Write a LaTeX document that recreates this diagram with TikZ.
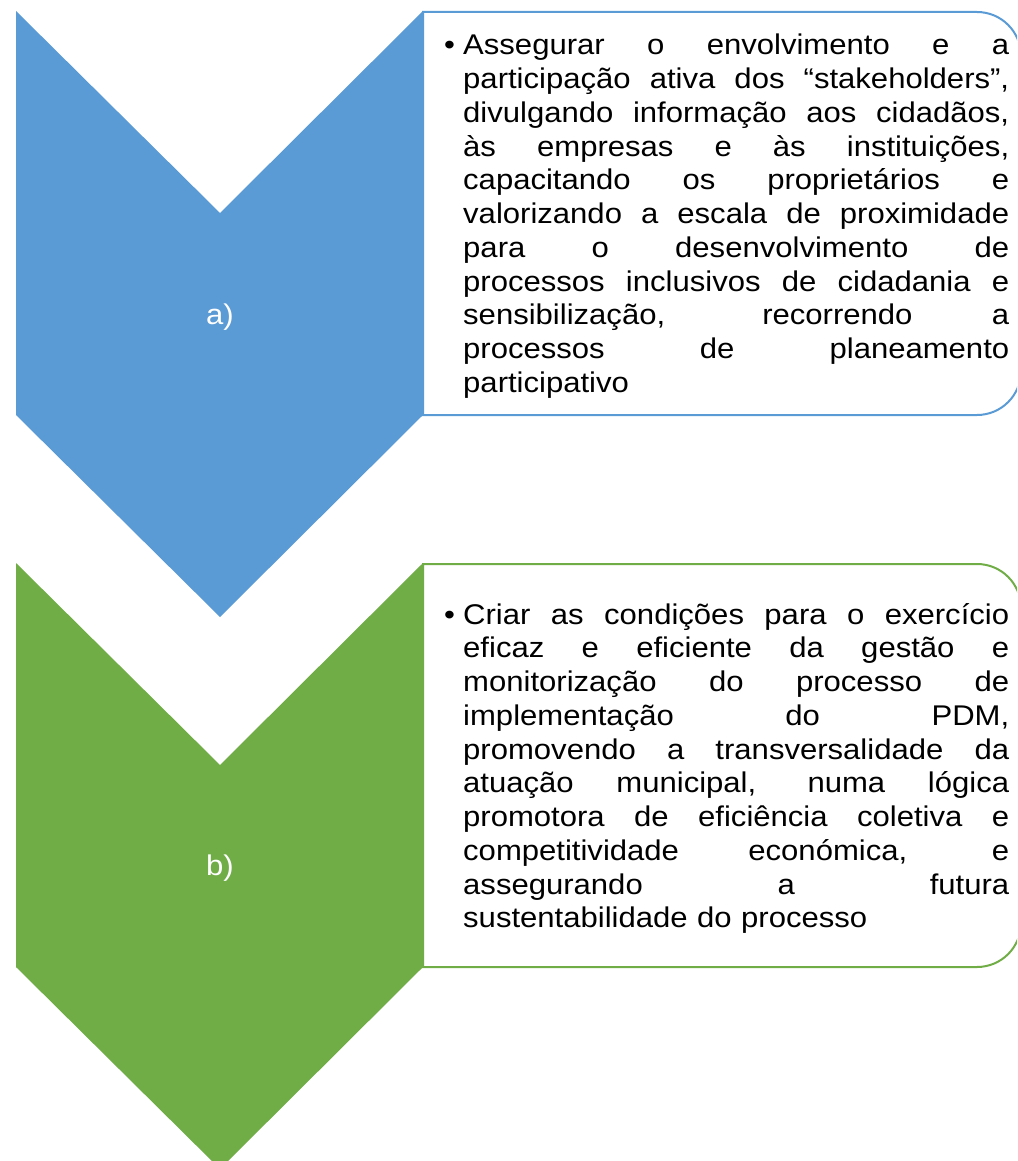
\documentclass[tikz,border=0pt]{standalone}
\usepackage{fontspec}
\setmainfont{Liberation Sans}[FakeStretch=1.09]
\definecolor{chevblue}{HTML}{5B9BD5}
\definecolor{chevgreen}{HTML}{70AD47}
\newlength\txw
\setlength\txw{546pt}
\newcommand\jln[1]{\leavevmode\hbox to \txw{\spaceskip=\fontdimen2\font plus 1fil\relax #1}\\}
\tikzset{
  bodytext/.style={anchor=base west, inner sep=0pt, text width=546pt, align=left,
    font=\fontsize{28.5}{33.75}\selectfont, text=black},
  bullettext/.style={anchor=base west, inner sep=0pt, font=\fontsize{28.5}{33.75}\selectfont},
  chevlabel/.style={inner sep=0pt, text=white, font=\fontsize{28.5}{37}\selectfont},
  boxline/.style={line width=2pt, fill=white}
}
\begin{document}
\begin{tikzpicture}[x=1pt,y=-1pt]
\useasboundingbox (0,0) rectangle (1017,1161);
\clip (0,0) rectangle (1017,1161);
% blue chevron and box
\fill[chevblue] (16,11) -- (220,213) -- (423,11) -- (423,415) -- (220,617) -- (16,415) -- cycle;
\draw[boxline, draw=chevblue] (423,12) -- (977,12) .. controls (1001.3,12) and (1021,31.7) .. (1021,56)
  -- (1021,371) .. controls (1021,395.3) and (1001.3,415) .. (977,415) -- (423,415) -- cycle;
% green chevron and box
\fill[chevgreen] (16,563) -- (220,765) -- (423,563) -- (423,967) -- (220,1169) -- (16,967) -- cycle;
\draw[boxline, draw=chevgreen] (423,564) -- (977,564) .. controls (1001.3,564) and (1021,583.7) .. (1021,608)
  -- (1021,923) .. controls (1021,947.3) and (1001.3,967) .. (977,967) -- (423,967) -- cycle;
% labels
\node[chevlabel] (la) at (220,317) {a)};
\node[chevlabel] (lb) at (220,868) {b)};
% texts
\node[bullettext] (bua) at (444,55) {•};
\node[bodytext] (ta) at (463,55) {%
\jln{Assegurar o envolvimento e a}
\jln{participação ativa dos “stakeholders”,}
\jln{divulgando informação aos cidadãos,}
\jln{às empresas e às instituições,}
\jln{capacitando os proprietários e}
\jln{valorizando a escala de proximidade}
\jln{para o desenvolvimento de}
\jln{processos inclusivos de cidadania e}
\jln{sensibilização, recorrendo a}
\jln{processos de planeamento}
participativo};
\node[bullettext] (bub) at (444,624) {•};
\node[bodytext] (tb) at (463,624) {%
\jln{Criar as condições para o exercício}
\jln{eficaz e eficiente da gestão e}
\jln{monitorização do processo de}
\jln{implementação do PDM,}
\jln{promovendo a transversalidade da}
\jln{atuação municipal, numa lógica}
\jln{promotora de eficiência coletiva e}
\jln{competitividade económica, e}
\jln{assegurando a futura}
sustentabilidade do processo};
\end{tikzpicture}
\end{document}
